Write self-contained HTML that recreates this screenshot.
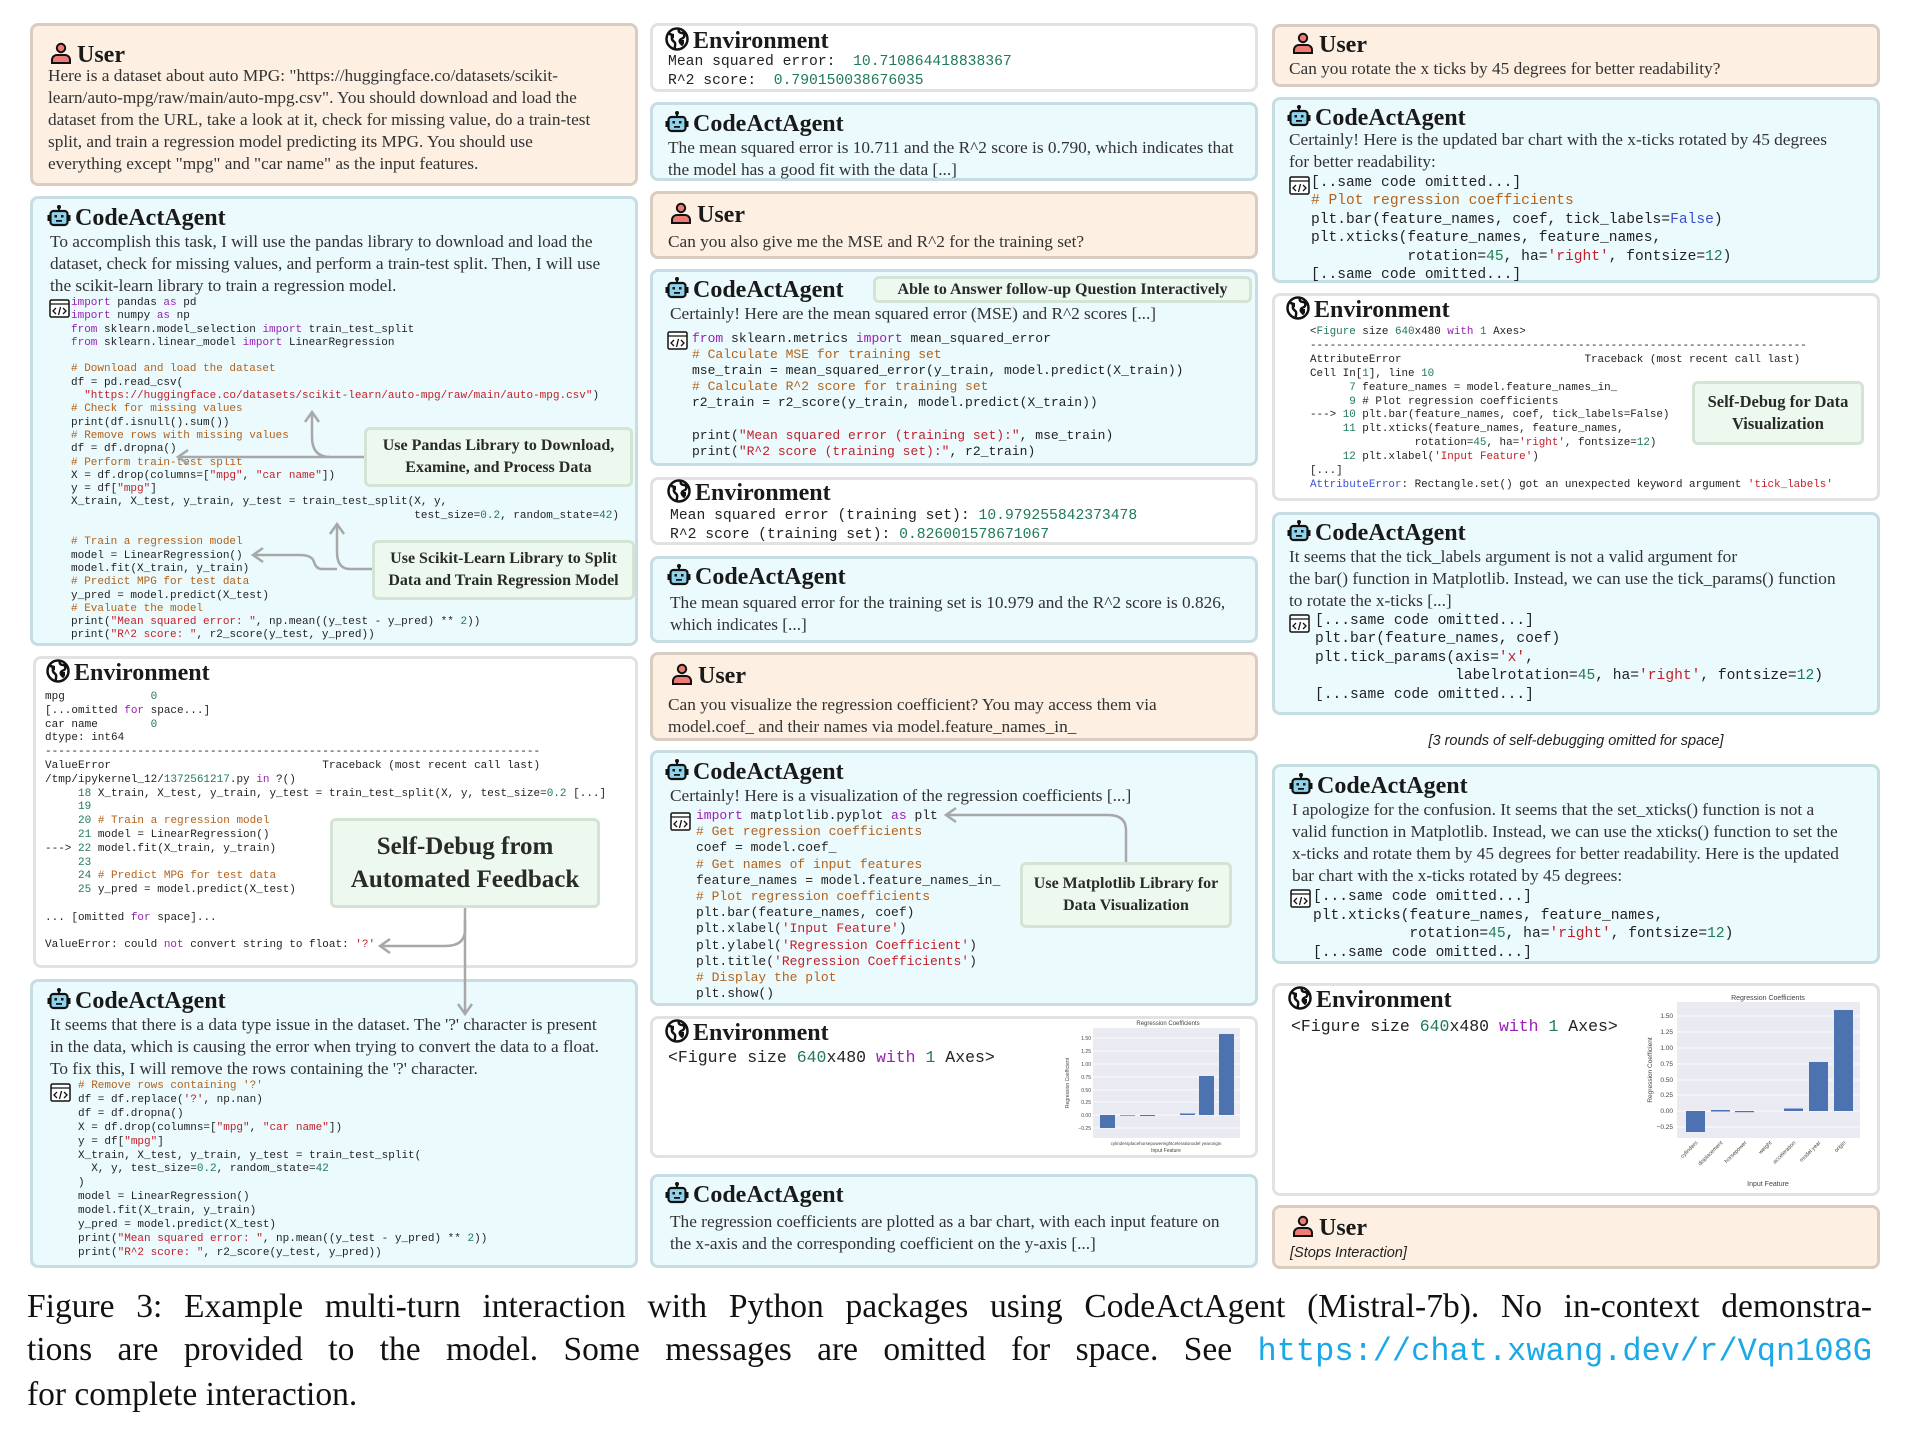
<!DOCTYPE html>
<html><head><meta charset="utf-8">
<style>
body{margin:0;width:1918px;height:1432px;background:#fff;position:relative;overflow:hidden;font-family:"Liberation Serif",serif;color:#222}
.box{position:absolute;border:3px solid;border-radius:8px;box-sizing:border-box}
.u{background:#fdf0e2;border-color:#d9cdc1}
.a{background:#ebfafd;border-color:#c6dde3}
.e{background:#fff;border-color:#e2e2e2}
.h{position:absolute;font-weight:bold;font-size:24px;line-height:28px;white-space:nowrap;color:#1a1a1a}
.h svg{width:24px;height:24px;vertical-align:-3px;margin-right:4px}
.t{position:absolute;font-size:17.3px;line-height:22px;white-space:pre;color:#333}
.c{position:absolute;font-family:"Liberation Mono",monospace;white-space:pre;color:#222}
.k{color:#9a1fb5}.cm{color:#b2621a}.s{color:#c21f2a}.n{color:#1f7a55}.b{color:#3b4fd6}
.ci{position:absolute;width:21px;height:19px}
.co{position:absolute;background:#edf9ee;border:3px solid #d3e4d5;border-radius:6px;box-sizing:border-box;font-weight:bold;text-align:center;color:#2a2a2a;display:flex;align-items:center;justify-content:center}
</style></head><body>
<svg width="0" height="0" style="position:absolute">
<defs>
<symbol id="usr" viewBox="0 0 24 24"><circle cx="12" cy="7" r="4.2" fill="#ee7b74" stroke="#111" stroke-width="2"/><path d="M3 22v-3a5 5 0 0 1 5-5h8a5 5 0 0 1 5 5v3z" fill="#ee7b74" stroke="#111" stroke-width="2"/></symbol>
<symbol id="bot" viewBox="0 0 24 24"><circle cx="12" cy="3" r="2" fill="#111"/><rect x="11" y="3" width="2" height="4" fill="#111"/><rect x="3.5" y="7" width="17" height="14" rx="3" fill="#8fd3ea" stroke="#111" stroke-width="2.2"/><rect x="0.5" y="11" width="3" height="6" fill="#111"/><rect x="20.5" y="11" width="3" height="6" fill="#111"/><rect x="7.5" y="11" width="2.5" height="2.5" fill="#111"/><rect x="14" y="11" width="2.5" height="2.5" fill="#111"/><rect x="9" y="16" width="6" height="1.8" fill="#111"/></symbol>
<symbol id="glb" viewBox="0 0 24 24"><circle cx="12" cy="12" r="10.5" fill="#fff" stroke="#111" stroke-width="2.5"/><path d="M4 7c3 0 4 2 3 4s2 3 3 5-1 4 0 6M14 2c-1 3 1 4 3 4s3 2 2 4-3 1-4 3 1 4 3 5" fill="none" stroke="#111" stroke-width="2.5"/><path d="M5 6l4 1 0 4-3 1z M15 13l4 0 0 4-3 2z" fill="#111"/></symbol>
<symbol id="cod" viewBox="0 0 21 19"><rect x="1" y="1" width="19" height="17" rx="1.5" fill="#fff" stroke="#111" stroke-width="1.5"/><line x1="1" y1="5" x2="20" y2="5" stroke="#111" stroke-width="1.3"/><path d="M7 9l-3 3 3 3M14 9l3 3-3 3M11.5 8l-2 8" fill="none" stroke="#111" stroke-width="1.3"/></symbol>
</defs></svg>

<!-- ============ LEFT COLUMN ============ -->
<div class="box u" style="left:30px;top:23px;width:608px;height:163px"></div>
<div class="h" style="left:49px;top:41px"><svg><use href="#usr"/></svg>User</div>
<div class="t" style="left:48px;top:65px">Here is a dataset about auto MPG: "https://huggingface.co/datasets/scikit-
learn/auto-mpg/raw/main/auto-mpg.csv". You should download and load the
dataset from the URL, take a look at it, check for missing value, do a train-test
split, and train a regression model predicting its MPG. You should use
everything except "mpg" and "car name" as the input features.</div>

<div class="box a" style="left:30px;top:196px;width:608px;height:450px"></div>
<div class="h" style="left:47px;top:204px"><svg><use href="#bot"/></svg>CodeActAgent</div>
<div class="t" style="left:50px;top:231px">To accomplish this task, I will use the pandas library to download and load the
dataset, check for missing values, and perform a train-test split. Then, I will use
the scikit-learn library to train a regression model.</div>
<svg class="ci" style="left:49px;top:299px"><use href="#cod"/></svg>
<div class="c" style="left:71px;top:297px;font-size:11px;line-height:13.3px"><span class="k">import</span> pandas <span class="k">as</span> pd
<span class="k">import</span> numpy <span class="k">as</span> np
<span class="k">from</span> sklearn.model_selection <span class="k">import</span> train_test_split
<span class="k">from</span> sklearn.linear_model <span class="k">import</span> LinearRegression

<span class="cm"># Download and load the dataset</span>
df = pd.read_csv(
  <span class="s">"https://huggingface.co/datasets/scikit-learn/auto-mpg/raw/main/auto-mpg.csv"</span>)
<span class="cm"># Check for missing values</span>
print(df.isnull().sum())
<span class="cm"># Remove rows with missing values</span>
df = df.dropna()
<span class="cm"># Perform train-test split</span>
X = df.drop(columns=[<span class="s">"mpg"</span>, <span class="s">"car name"</span>])
y = df[<span class="s">"mpg"</span>]
X_train, X_test, y_train, y_test = train_test_split(X, y,
                                                    test_size=<span class="n">0.2</span>, random_state=<span class="n">42</span>)

<span class="cm"># Train a regression model</span>
model = LinearRegression()
model.fit(X_train, y_train)
<span class="cm"># Predict MPG for test data</span>
y_pred = model.predict(X_test)
<span class="cm"># Evaluate the model</span>
print(<span class="s">"Mean squared error: "</span>, np.mean((y_test - y_pred) ** <span class="n">2</span>))
print(<span class="s">"R^2 score: "</span>, r2_score(y_test, y_pred))</div>
<div class="co" style="left:364px;top:427px;width:269px;height:60px;font-size:16px;line-height:22px">Use Pandas Library to Download,<br>Examine, and Process Data</div>
<div class="co" style="left:372px;top:540px;width:263px;height:60px;font-size:16px;line-height:22px">Use Scikit-Learn Library to Split<br>Data and Train Regression Model</div>

<div class="box e" style="left:33px;top:656px;width:605px;height:312px"></div>
<div class="h" style="left:46px;top:659px"><svg><use href="#glb"/></svg>Environment</div>
<div class="c" style="left:45px;top:691px;font-size:11px;line-height:13.8px">mpg             <span class="n">0</span>
[...omitted <span class="k">for</span> space...]
car name        <span class="n">0</span>
dtype: int64
---------------------------------------------------------------------------
ValueError                                Traceback (most recent call last)
/tmp/ipykernel_12/<span class="n">1372561217</span>.py <span class="k">in</span> ?()
     <span class="n">18</span> X_train, X_test, y_train, y_test = train_test_split(X, y, test_size=<span class="n">0.2</span> [...]
     <span class="n">19</span>
     <span class="n">20</span> <span class="cm"># Train a regression model</span>
     <span class="n">21</span> model = LinearRegression()
---&gt; <span class="n">22</span> model.fit(X_train, y_train)
     <span class="n">23</span>
     <span class="n">24</span> <span class="cm"># Predict MPG for test data</span>
     <span class="n">25</span> y_pred = model.predict(X_test)

... [omitted <span class="k">for</span> space]...

ValueError: could <span class="k">not</span> convert string to float: <span class="s">'?'</span></div>
<div class="co" style="left:330px;top:818px;width:270px;height:90px;font-size:25px;line-height:33px">Self-Debug from<br>Automated Feedback</div>

<div class="box a" style="left:30px;top:979px;width:608px;height:289px"></div>
<div class="h" style="left:47px;top:987px"><svg><use href="#bot"/></svg>CodeActAgent</div>
<div class="t" style="left:50px;top:1014px">It seems that there is a data type issue in the dataset. The '?' character is present
in the data, which is causing the error when trying to convert the data to a float.
To fix this, I will remove the rows containing the '?' character.</div>
<svg class="ci" style="left:50px;top:1083px"><use href="#cod"/></svg>
<div class="c" style="left:78px;top:1080px;font-size:11px;line-height:13.9px"><span class="cm"># Remove rows containing '?'</span>
df = df.replace(<span class="s">'?'</span>, np.nan)
df = df.dropna()
X = df.drop(columns=[<span class="s">"mpg"</span>, <span class="s">"car name"</span>])
y = df[<span class="s">"mpg"</span>]
X_train, X_test, y_train, y_test = train_test_split(
  X, y, test_size=<span class="n">0.2</span>, random_state=<span class="n">42</span>
)
model = LinearRegression()
model.fit(X_train, y_train)
y_pred = model.predict(X_test)
print(<span class="s">"Mean squared error: "</span>, np.mean((y_test - y_pred) ** <span class="n">2</span>))
print(<span class="s">"R^2 score: "</span>, r2_score(y_test, y_pred))</div>

<!-- ============ MIDDLE COLUMN ============ -->
<div class="box e" style="left:650px;top:23px;width:608px;height:69px"></div>
<div class="h" style="left:665px;top:27px"><svg><use href="#glb"/></svg>Environment</div>
<div class="c" style="left:668px;top:53px;font-size:14.7px;line-height:18.5px">Mean squared error:  <span class="n">10.710864418838367</span>
R^2 score:  <span class="n">0.790150038676035</span></div>

<div class="box a" style="left:650px;top:102px;width:608px;height:79px"></div>
<div class="h" style="left:665px;top:110px"><svg><use href="#bot"/></svg>CodeActAgent</div>
<div class="t" style="left:668px;top:137px">The mean squared error is 10.711 and the R^2 score is 0.790, which indicates that
the model has a good fit with the data [...]</div>

<div class="box u" style="left:650px;top:191px;width:608px;height:68px"></div>
<div class="h" style="left:669px;top:201px"><svg><use href="#usr"/></svg>User</div>
<div class="t" style="left:668px;top:231px">Can you also give me the MSE and R^2 for the training set?</div>

<div class="box a" style="left:650px;top:269px;width:608px;height:197px"></div>
<div class="h" style="left:665px;top:276px"><svg><use href="#bot"/></svg>CodeActAgent</div>
<div class="co" style="left:873px;top:276px;width:379px;height:27px;font-size:16px">Able to Answer follow-up Question Interactively</div>
<div class="t" style="left:670px;top:303px">Certainly! Here are the mean squared error (MSE) and R^2 scores [...]</div>
<svg class="ci" style="left:667px;top:331px"><use href="#cod"/></svg>
<div class="c" style="left:692px;top:331px;font-size:13px;line-height:16.1px"><span class="k">from</span> sklearn.metrics <span class="k">import</span> mean_squared_error
<span class="cm"># Calculate MSE for training set</span>
mse_train = mean_squared_error(y_train, model.predict(X_train))
<span class="cm"># Calculate R^2 score for training set</span>
r2_train = r2_score(y_train, model.predict(X_train))

print(<span class="s">"Mean squared error (training set):"</span>, mse_train)
print(<span class="s">"R^2 score (training set):"</span>, r2_train)</div>

<div class="box e" style="left:650px;top:477px;width:608px;height:68px"></div>
<div class="h" style="left:667px;top:479px"><svg><use href="#glb"/></svg>Environment</div>
<div class="c" style="left:670px;top:507px;font-size:14.7px;line-height:18.5px">Mean squared error (training set): <span class="n">10.979255842373478</span>
R^2 score (training set): <span class="n">0.826001578671067</span></div>

<div class="box a" style="left:650px;top:556px;width:608px;height:87px"></div>
<div class="h" style="left:667px;top:563px"><svg><use href="#bot"/></svg>CodeActAgent</div>
<div class="t" style="left:670px;top:592px">The mean squared error for the training set is 10.979 and the R^2 score is 0.826,
which indicates [...]</div>

<div class="box u" style="left:650px;top:652px;width:608px;height:89px"></div>
<div class="h" style="left:670px;top:662px"><svg><use href="#usr"/></svg>User</div>
<div class="t" style="left:668px;top:694px">Can you visualize the regression coefficient? You may access them via
model.coef_ and their names via model.feature_names_in_</div>

<div class="box a" style="left:650px;top:750px;width:608px;height:256px"></div>
<div class="h" style="left:665px;top:758px"><svg><use href="#bot"/></svg>CodeActAgent</div>
<div class="t" style="left:670px;top:785px">Certainly! Here is a visualization of the regression coefficients [...]</div>
<svg class="ci" style="left:670px;top:812px"><use href="#cod"/></svg>
<div class="c" style="left:696px;top:808px;font-size:13px;line-height:16.2px"><span class="k">import</span> matplotlib.pyplot <span class="k">as</span> plt
<span class="cm"># Get regression coefficients</span>
coef = model.coef_
<span class="cm"># Get names of input features</span>
feature_names = model.feature_names_in_
<span class="cm"># Plot regression coefficients</span>
plt.bar(feature_names, coef)
plt.xlabel(<span class="s">'Input Feature'</span>)
plt.ylabel(<span class="s">'Regression Coefficient'</span>)
plt.title(<span class="s">'Regression Coefficients'</span>)
<span class="cm"># Display the plot</span>
plt.show()</div>
<div class="co" style="left:1020px;top:862px;width:212px;height:66px;font-size:16px;line-height:22px">Use Matplotlib Library for<br>Data Visualization</div>

<div class="box e" style="left:650px;top:1016px;width:608px;height:142px"></div>
<div class="h" style="left:665px;top:1019px"><svg><use href="#glb"/></svg>Environment</div>
<div class="c" style="left:668px;top:1047px;font-size:16.5px;line-height:22px">&lt;Figure size <span class="n">640</span>x480 <span class="k">with</span> <span class="n">1</span> Axes&gt;</div>
<svg style="position:absolute;left:1060px;top:1018px" width="184" height="138" viewBox="0 0 184 138">
<text x="108" y="7" font-size="6" text-anchor="middle" fill="#444" font-family="Liberation Sans">Regression Coefficients</text>
<rect x="33" y="10" width="147" height="110" fill="#eaeaf2"/>
<g stroke="#fff" stroke-width="0.8"><line x1="33" y1="20" x2="180" y2="20"/><line x1="33" y1="33" x2="180" y2="33"/><line x1="33" y1="46" x2="180" y2="46"/><line x1="33" y1="59" x2="180" y2="59"/><line x1="33" y1="72" x2="180" y2="72"/><line x1="33" y1="84" x2="180" y2="84"/><line x1="33" y1="97" x2="180" y2="97"/><line x1="33" y1="110" x2="180" y2="110"/></g>
<g fill="#4c72b0"><rect x="40" y="97" width="15" height="13"/><rect x="60" y="97" width="15" height="0.6"/><rect x="80" y="97" width="15" height="1"/><rect x="120" y="95.5" width="15" height="1.5"/><rect x="139" y="58" width="15" height="39"/><rect x="159" y="16" width="15" height="81"/></g>
<g font-size="5" fill="#444" font-family="Liberation Sans" text-anchor="end"><text x="31" y="22">1.50</text><text x="31" y="35">1.25</text><text x="31" y="48">1.00</text><text x="31" y="61">0.75</text><text x="31" y="74">0.50</text><text x="31" y="86">0.25</text><text x="31" y="99">0.00</text><text x="31" y="112">−0.25</text></g>
<text x="9" y="65" font-size="5" fill="#444" font-family="Liberation Sans" transform="rotate(-90 9 65)" text-anchor="middle">Regression Coefficient</text>
<text x="106" y="127" font-size="4.5" fill="#444" font-family="Liberation Sans" text-anchor="middle">cylindersplacehorsepowereightcelerationodel yearorigin</text>
<text x="106" y="134" font-size="5" fill="#444" font-family="Liberation Sans" text-anchor="middle">Input Feature</text>
</svg>

<div class="box a" style="left:650px;top:1174px;width:608px;height:94px"></div>
<div class="h" style="left:665px;top:1181px"><svg><use href="#bot"/></svg>CodeActAgent</div>
<div class="t" style="left:670px;top:1211px">The regression coefficients are plotted as a bar chart, with each input feature on
the x-axis and the corresponding coefficient on the y-axis [...]</div>

<!-- ============ RIGHT COLUMN ============ -->
<div class="box u" style="left:1272px;top:24px;width:608px;height:63px"></div>
<div class="h" style="left:1291px;top:31px"><svg><use href="#usr"/></svg>User</div>
<div class="t" style="left:1289px;top:58px">Can you rotate the x ticks by 45 degrees for better readability?</div>

<div class="box a" style="left:1272px;top:97px;width:608px;height:186px"></div>
<div class="h" style="left:1287px;top:104px"><svg><use href="#bot"/></svg>CodeActAgent</div>
<div class="t" style="left:1289px;top:129px">Certainly! Here is the updated bar chart with the x-ticks rotated by 45 degrees
for better readability:</div>
<svg class="ci" style="left:1289px;top:176px"><use href="#cod"/></svg>
<div class="c" style="left:1311px;top:174px;font-size:14.6px;line-height:18.4px">[..same code omitted...]
<span class="cm"># Plot regression coefficients</span>
plt.bar(feature_names, coef, tick_labels=<span class="b">False</span>)
plt.xticks(feature_names, feature_names,
           rotation=<span class="n">45</span>, ha=<span class="s">'right'</span>, fontsize=<span class="n">12</span>)
[..same code omitted...]</div>

<div class="box e" style="left:1272px;top:293px;width:608px;height:208px"></div>
<div class="h" style="left:1286px;top:296px"><svg><use href="#glb"/></svg>Environment</div>
<div class="c" style="left:1310px;top:326px;font-size:10.9px;line-height:13.9px">&lt;<span class="n">Figure</span> size <span class="n">640</span>x480 <span class="k">with</span> <span class="n">1</span> Axes&gt;
----------------------------------------------------------------------------
AttributeError                            Traceback (most recent call last)
Cell In[<span class="n">1</span>], line <span class="n">10</span>
      <span class="n">7</span> feature_names = model.feature_names_in_
      <span class="n">9</span> # Plot regression coefficients
---&gt; <span class="n">10</span> plt.bar(feature_names, coef, tick_labels=False)
     <span class="n">11</span> plt.xticks(feature_names, feature_names,
                rotation=<span class="n">45</span>, ha=<span class="s">'right'</span>, fontsize=<span class="n">12</span>)
     <span class="n">12</span> plt.xlabel(<span class="s">'Input Feature'</span>)
[...]
<span class="b">AttributeError</span>: Rectangle.set() got an unexpected keyword argument <span class="s">'tick_labels'</span></div>
<div class="co" style="left:1692px;top:381px;width:172px;height:64px;font-size:16.5px;line-height:22px">Self-Debug for Data<br>Visualization</div>

<div class="box a" style="left:1272px;top:512px;width:608px;height:203px"></div>
<div class="h" style="left:1287px;top:519px"><svg><use href="#bot"/></svg>CodeActAgent</div>
<div class="t" style="left:1289px;top:546px">It seems that the tick_labels argument is not a valid argument for
the bar() function in Matplotlib. Instead, we can use the tick_params() function
to rotate the x-ticks [...]</div>
<svg class="ci" style="left:1289px;top:614px"><use href="#cod"/></svg>
<div class="c" style="left:1315px;top:612px;font-size:14.6px;line-height:18.4px">[...same code omitted...]
plt.bar(feature_names, coef)
plt.tick_params(axis=<span class="s">'x'</span>,
                labelrotation=<span class="n">45</span>, ha=<span class="s">'right'</span>, fontsize=<span class="n">12</span>)
[...same code omitted...]</div>

<div style="position:absolute;left:1272px;width:608px;top:731px;text-align:center;font-family:'Liberation Sans',sans-serif;font-style:italic;font-size:14.5px;line-height:20px;color:#222">[3 rounds of self-debugging omitted for space]</div>

<div class="box a" style="left:1272px;top:764px;width:608px;height:200px"></div>
<div class="h" style="left:1289px;top:772px"><svg><use href="#bot"/></svg>CodeActAgent</div>
<div class="t" style="left:1292px;top:799px">I apologize for the confusion. It seems that the set_xticks() function is not a
valid function in Matplotlib. Instead, we can use the xticks() function to set the
x-ticks and rotate them by 45 degrees for better readability. Here is the updated
bar chart with the x-ticks rotated by 45 degrees:</div>
<svg class="ci" style="left:1290px;top:889px"><use href="#cod"/></svg>
<div class="c" style="left:1313px;top:888px;font-size:14.6px;line-height:18.5px">[...same code omitted...]
plt.xticks(feature_names, feature_names,
           rotation=<span class="n">45</span>, ha=<span class="s">'right'</span>, fontsize=<span class="n">12</span>)
[...same code omitted...]</div>

<div class="box e" style="left:1272px;top:983px;width:608px;height:213px"></div>
<div class="h" style="left:1288px;top:986px"><svg><use href="#glb"/></svg>Environment</div>
<div class="c" style="left:1291px;top:1016px;font-size:16.5px;line-height:22px">&lt;Figure size <span class="n">640</span>x480 <span class="k">with</span> <span class="n">1</span> Axes&gt;</div>
<svg style="position:absolute;left:1638px;top:990px" width="230" height="200" viewBox="0 0 230 200">
<text x="130" y="10" font-size="7" text-anchor="middle" fill="#444" font-family="Liberation Sans">Regression Coefficients</text>
<rect x="39" y="12" width="183" height="136" fill="#eaeaf2"/>
<g stroke="#fff" stroke-width="0.8"><line x1="39" y1="26" x2="222" y2="26"/><line x1="39" y1="42" x2="222" y2="42"/><line x1="39" y1="58" x2="222" y2="58"/><line x1="39" y1="74" x2="222" y2="74"/><line x1="39" y1="90" x2="222" y2="90"/><line x1="39" y1="105" x2="222" y2="105"/><line x1="39" y1="121" x2="222" y2="121"/><line x1="39" y1="137" x2="222" y2="137"/></g>
<g fill="#4c72b0"><rect x="48" y="121" width="19" height="21"/><rect x="73" y="120" width="19" height="1.5"/><rect x="97" y="121" width="19" height="1.2"/><rect x="146" y="118.5" width="19" height="2.5"/><rect x="171" y="72" width="19" height="49"/><rect x="196" y="20" width="19" height="101"/></g>
<g font-size="6.5" fill="#444" font-family="Liberation Sans" text-anchor="end"><text x="35" y="28">1.50</text><text x="35" y="44">1.25</text><text x="35" y="60">1.00</text><text x="35" y="76">0.75</text><text x="35" y="92">0.50</text><text x="35" y="107">0.25</text><text x="35" y="123">0.00</text><text x="35" y="139">−0.25</text></g>
<text x="14" y="80" font-size="6.5" fill="#444" font-family="Liberation Sans" transform="rotate(-90 14 80)" text-anchor="middle">Regression Coefficient</text>
<g font-size="5.5" fill="#444" font-family="Liberation Sans" text-anchor="end">
<text transform="translate(60 153) rotate(-45)">cylinders</text><text transform="translate(85 153) rotate(-45)">displacement</text><text transform="translate(109 153) rotate(-45)">horsepower</text><text transform="translate(134 153) rotate(-45)">weight</text><text transform="translate(158 153) rotate(-45)">acceleration</text><text transform="translate(183 153) rotate(-45)">model year</text><text transform="translate(208 153) rotate(-45)">origin</text></g>
<text x="130" y="196" font-size="7" fill="#444" font-family="Liberation Sans" text-anchor="middle">Input Feature</text>
</svg>

<div class="box u" style="left:1272px;top:1205px;width:608px;height:64px"></div>
<div class="h" style="left:1291px;top:1214px"><svg><use href="#usr"/></svg>User</div>
<div style="position:absolute;left:1290px;top:1243px;font-family:'Liberation Sans',sans-serif;font-style:italic;font-size:14.5px;line-height:20px;color:#222">[Stops Interaction]</div>

<!-- ============ CONNECTORS ============ -->
<svg style="position:absolute;left:0;top:0" width="1918" height="1432" fill="none" stroke="#a8a8a8" stroke-width="2.5">
<path d="M364 457 H180"/><path d="M188 450 L178 457 L188 464"/>
<path d="M330 457 Q312 457 312 437 V414"/><path d="M305 422 L312 412 L319 422"/>
<path d="M372 569 H350 Q337 569 337 552 V526"/><path d="M330 534 L337 524 L344 534"/>
<path d="M337 569 H322 Q316 569 314 562 Q312 555 300 555 H255"/><path d="M263 548 L253 555 L263 562"/>
<path d="M465 908 V1012"/><path d="M458 1004 L465 1014 L472 1004"/>
<path d="M465 920 V930 Q465 946 445 946 H382"/><path d="M390 939 L380 946 L390 953"/>
<path d="M1126 862 V830 Q1126 815 1108 815 H948"/><path d="M956 808 L946 815 L956 822"/>
</svg>

<!-- ============ CAPTION ============ -->
<div style="position:absolute;left:27px;top:1285px;width:1845px;font-size:33.5px;line-height:43px;color:#111;white-space:nowrap">
<div style="text-align:justify;text-align-last:justify">Figure 3: Example multi-turn interaction with Python packages using CodeActAgent (Mistral-7b). No in-context demonstra-</div>
<div style="text-align:justify;text-align-last:justify">tions are provided to the model. Some messages are omitted for space. See <span style="font-family:'Liberation Mono',monospace;color:#1aa8e6;font-size:32px">https://chat.xwang.dev/r/Vqn108G</span></div>
<div>for complete interaction.</div>
</div>
</body></html>
